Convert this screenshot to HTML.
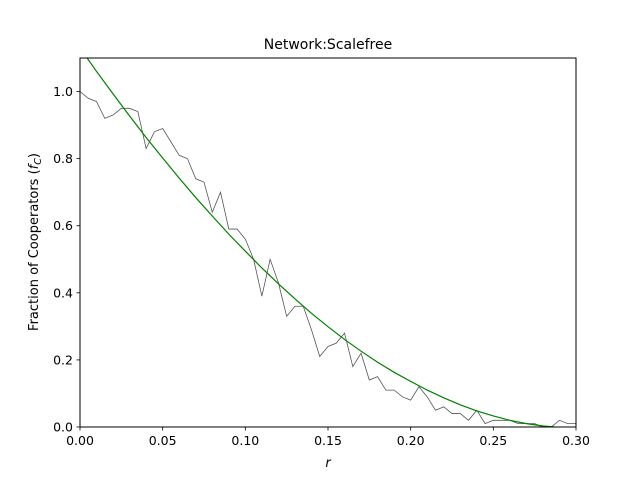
<!DOCTYPE html>
<html><head><meta charset="utf-8"><style>
html,body{margin:0;padding:0;background:#fff;}
svg text{font-family:"DejaVu Sans","Liberation Sans",sans-serif;fill:#000;}
</style></head><body>
<svg id="chart" width="640" height="480" xmlns="http://www.w3.org/2000/svg">
<defs><clipPath id="plotclip"><rect x="80" y="58" width="496" height="369"/></clipPath></defs>
<rect width="640" height="480" fill="#fff"/>
<text x="328" y="49" font-size="14" text-anchor="middle">Network:Scalefree</text>
<g id="series" clip-path="url(#plotclip)"></g>
<g id="axes"></g>
<rect x="80" y="58" width="496" height="369" fill="none" stroke="#000" stroke-width="1"/>
<text x="328" y="467" font-size="13" font-style="italic" text-anchor="middle">r</text>
<text transform="translate(38,242) rotate(-90)" font-size="13" text-anchor="middle">Fraction of Cooperators (<tspan font-style="italic">f</tspan><tspan font-style="italic" font-size="9.5" dy="3">C</tspan><tspan dy="-3">)</tspan></text>
</svg>
<script>
const simR = [];
for (let i = 0; i <= 60; i++) simR.push(i * 0.005);
const simValues = [1.0,0.98,0.97,0.92,0.93,0.95,0.95,0.94,0.83,0.88,0.89,0.85,0.81,0.80,0.74,0.73,0.64,0.70,0.59,0.59,0.56,0.50,0.39,0.50,0.43,0.33,0.36,0.36,0.29,0.21,0.24,0.25,0.28,0.18,0.22,0.14,0.15,0.11,0.11,0.09,0.08,0.12,0.09,0.05,0.06,0.04,0.04,0.02,0.05,0.01,0.02,0.02,0.02,0.01,0.01,0.01,0.0,0.0,0.02,0.01,0.01];
const fitR = [0,0.01,0.02,0.03,0.04,0.05,0.06,0.07,0.08,0.09,0.10,0.11,0.12,0.13,0.14,0.15,0.16,0.17,0.18,0.19,0.20,0.21,0.22,0.23,0.24,0.25,0.26,0.27,0.28,0.287,0.29,0.30];
const fitValues = [1.13,1.06,0.993,0.927,0.863,0.802,0.742,0.684,0.629,0.575,0.524,0.474,0.427,0.382,0.339,0.299,0.261,0.226,0.193,0.163,0.136,0.110,0.087,0.066,0.048,0.033,0.020,0.010,0.003,0,-0.002,-0.01];
const xTicks = [0,0.05,0.10,0.15,0.20,0.25,0.30];
const xTickLabels = ["0.00","0.05","0.10","0.15","0.20","0.25","0.30"];
const yTicks = [0,0.2,0.4,0.6,0.8,1.0];
const yTickLabels = ["0.0","0.2","0.4","0.6","0.8","1.0"];

const X = v => 80 + (v - 0) / 0.3 * 496;
const Y = v => 427 - v / 1.1 * 369;
const NS = "http://www.w3.org/2000/svg";
const series = document.getElementById('series');
const axes = document.getElementById('axes');

function mk(tag, attrs, parent) {
  const e = document.createElementNS(NS, tag);
  for (const k in attrs) e.setAttribute(k, attrs[k]);
  parent.appendChild(e);
  return e;
}
const simLine = mk('polyline', {points: simR.map((r,i)=>X(r)+','+Y(simValues[i])).join(' '), fill:'none', stroke:'#555', 'stroke-width':0.8}, series);


const fitLine = mk('polyline', {points: fitR.map((r,i)=>X(r)+','+Y(fitValues[i])).join(' '), fill:'none', stroke:'#008000', 'stroke-width':1.2}, series);



xTicks.forEach((t,i)=>{
  const tk = mk('line', {x1:X(t), x2:X(t), y1:427, y2:430.5, stroke:'#000', 'stroke-width':0.8}, axes);
  
  
  const tl = mk('text', {x:X(t), y:445, 'font-size':12.5, 'text-anchor':'middle'}, axes);
  tl.textContent = xTickLabels[i];
  
  
});
yTicks.forEach((t,i)=>{
  const tk = mk('line', {x1:76.5, x2:80, y1:Y(t), y2:Y(t), stroke:'#000', 'stroke-width':0.8}, axes);
  
  
  const tl = mk('text', {x:73, y:Y(t)+4.5, 'font-size':12.5, 'text-anchor':'end'}, axes);
  tl.textContent = yTickLabels[i];
  
  
});
</script>
</body></html>
